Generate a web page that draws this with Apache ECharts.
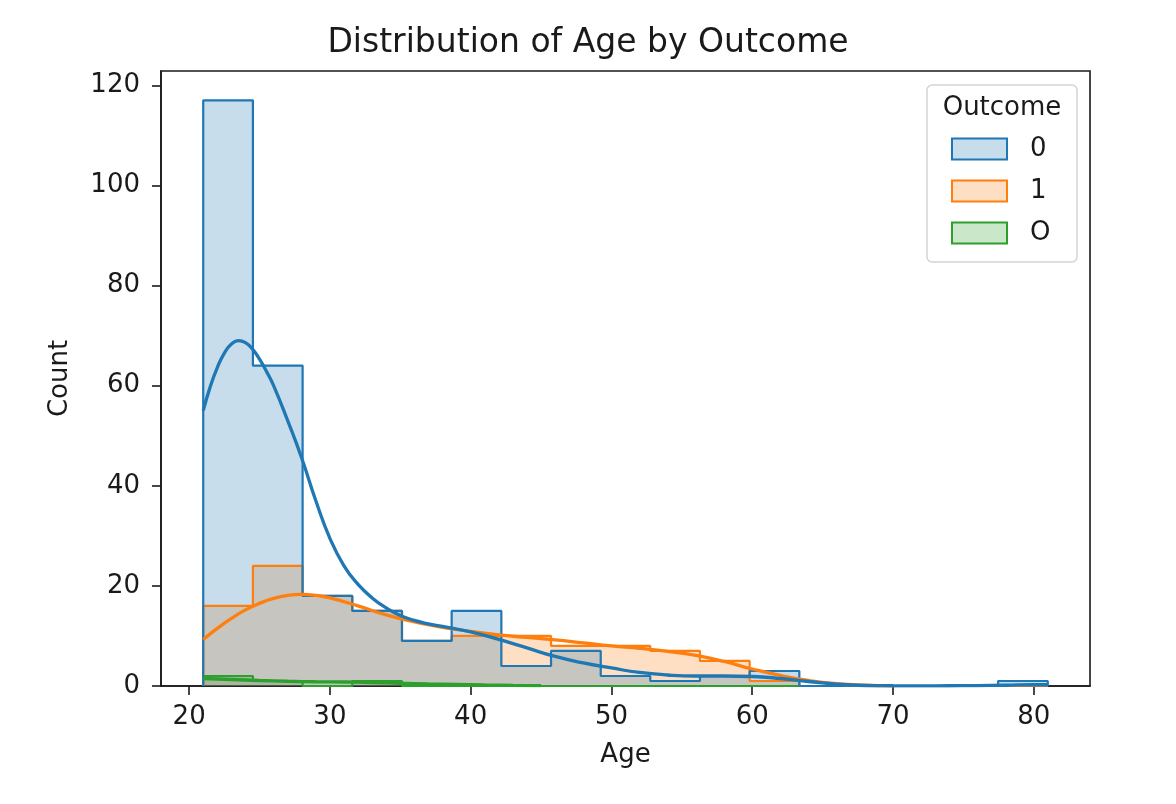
<!DOCTYPE html>
<html>
<head>
<meta charset="utf-8">
<title>Distribution of Age by Outcome</title>
<script src="https://cdn.jsdelivr.net/npm/echarts@6/dist/echarts.min.js"></script>
<style>
  html, body { margin: 0; padding: 0; background: #fff; }
  #chart { width: 1176px; height: 804px; }
</style>
</head>
<body>
<div id="chart"></div>
<script>
// histogram bins (17 bins from 21 to 81)
const binEdges = [21, 24.53, 28.06, 31.59, 35.12, 38.65, 42.18, 45.71, 49.24, 52.76, 56.29, 59.82, 63.35, 66.88, 70.41, 73.94, 77.47, 81];
const outcomes = ['0', '1', 'O'];
const counts0 = [117, 64, 18, 15, 9, 15, 4, 7, 2, 1, 2, 3, 0, 0, 0, 0, 1];
const counts1 = [16, 24, 18, 15, 9, 10, 10, 8, 8, 7, 5, 1, 0, 0, 0, 0, 0];
const countsO = [2, 1, 0, 1, 0, 0, 0, 0, 0, 0, 0, 0, 0, 0, 0, 0, 0];

// kde curves, [age, count]
const kde0 = [[21, 55], [21.5, 59.8], [22, 63.6], [22.5, 66.5], [23, 68.3], [23.5, 69], [24, 68.6], [24.5, 67.3],
  [25, 65.3], [25.5, 62.8], [26, 60], [27, 53], [28, 45.5], [29, 37],
  [30, 29.5], [31, 24], [32, 20.3], [33, 17.6], [34, 15.6], [35, 14.1], [36, 13.1], [37, 12.4], [38, 11.9],
  [40, 10.8], [42, 9.3], [44, 7.6], [46, 5.9], [48, 4.6], [50, 3.6], [52, 2.7], [54, 2.2], [56, 2.0], [58, 2.0],
  [60, 1.9], [62, 1.5], [64, 0.9], [66, 0.35], [68, 0.1], [70, 0.05], [72, 0.03], [74, 0.05], [76, 0.08],
  [78, 0.15], [80, 0.25], [81, 0.25]];
const kde1 = [[21, 9.3], [22, 11.5], [23, 13.5], [24, 15.2], [25, 16.5], [26, 17.5], [27, 18.1], [28, 18.3],
  [29, 18.1], [30, 17.6], [32, 16], [34, 14.2], [36, 12.8], [38, 11.7], [40, 10.9], [42, 10.2], [44, 9.7],
  [46, 9.2], [48, 8.6], [50, 8.0], [52, 7.5], [54, 6.9], [56, 6.1], [58, 4.9], [60, 3.4], [62, 2.1], [64, 1.1],
  [66, 0.45], [68, 0.15], [70, 0.05]];
const kdeO = [[21, 1.5], [23, 1.3], [25, 1.1], [27, 0.95], [29, 0.85], [31, 0.8], [33, 0.7], [35, 0.55],
  [37, 0.42], [39, 0.32], [41, 0.22], [43, 0.14], [45, 0.08]];

const xTicks = [20, 30, 40, 50, 60, 70, 80];
const yTicks = [0, 20, 40, 60, 80, 100, 120];

const colors = { '0': '#1f77b4', '1': '#ff7f0e', 'O': '#2ca02c' };
const fills = { '0': 'rgba(31,119,180,0.25)', '1': 'rgba(255,127,14,0.25)', 'O': 'rgba(44,160,44,0.25)' };
const FONT = 'DejaVu Sans';

// outline of a step histogram: down at both ends, flat over each bin
function stepPoints(counts) {
  let pts = [[binEdges[0], 0]];
  counts.forEach((c, i) => {
    pts.push([binEdges[i], c]);
    pts.push([binEdges[i + 1], c]);
  });
  pts.push([binEdges[binEdges.length - 1], 0]);
  return pts;
}

function histSeries(name, counts) {
  return {
    name: name,
    type: 'line',
    data: stepPoints(counts),
    showSymbol: false,
    silent: true,
    lineStyle: { color: colors[name], width: 2.2 },
    areaStyle: { color: fills[name], opacity: 1 },
    z: 2
  };
}

function kdeSeries(name, pts) {
  return {
    type: 'line',
    data: pts,
    smooth: 0.5,
    showSymbol: false,
    silent: true,
    lineStyle: { color: colors[name], width: 3.3 },
    z: 3
  };
}

// legend drawn by hand so the patches look like matplotlib ones
let legendGraphic = [{
  type: 'rect',
  shape: { x: 927, y: 85, width: 150, height: 177, r: 5 },
  style: { fill: 'rgba(255,255,255,0.8)', stroke: '#d4d4d4', lineWidth: 1.5 },
  z: 10
}, {
  type: 'text',
  x: 1002, y: 108,
  style: { text: 'Outcome', fontSize: 26, fontFamily: FONT, fill: '#1a1a1a', align: 'center', verticalAlign: 'middle' },
  z: 11
}];
outcomes.forEach((name, i) => {
  let cy = 149 + i * 42;
  legendGraphic.push({
    type: 'rect',
    shape: { x: 952, y: cy - 10.5, width: 55, height: 21 },
    style: { fill: fills[name], stroke: colors[name], lineWidth: 2 },
    z: 11
  });
  legendGraphic.push({
    type: 'text',
    x: 1030, y: cy,
    style: { text: name, fontSize: 26, fontFamily: FONT, fill: '#1a1a1a', align: 'left', verticalAlign: 'middle' },
    z: 11
  });
});

const chart = echarts.init(document.getElementById('chart'), null, { renderer: 'canvas' });
chart.setOption({
  animation: false,
  backgroundColor: '#ffffff',
  textStyle: { fontFamily: FONT },
  title: {
    text: 'Distribution of Age by Outcome',
    left: 'center',
    top: 27,
    padding: 0,
    textStyle: { fontFamily: FONT, fontSize: 33, fontWeight: 'normal', color: '#1a1a1a' }
  },
  grid: {
    left: 161, right: 86, top: 71, bottom: 118,
    show: true, borderColor: '#1a1a1a', borderWidth: 1.6, backgroundColor: 'transparent'
  },
  xAxis: {
    type: 'value',
    min: 18, max: 84,
    name: 'Age',
    nameLocation: 'middle',
    nameGap: 56,
    nameTextStyle: { fontFamily: FONT, fontSize: 26, color: '#1a1a1a' },
    axisLine: { onZero: false, lineStyle: { color: '#1a1a1a', width: 1.6 } },
    axisTick: { show: true, length: 9, lineStyle: { color: '#1a1a1a', width: 1.6 }, customValues: xTicks },
    axisLabel: { fontFamily: FONT, fontSize: 26, color: '#1a1a1a', margin: 18, customValues: xTicks },
    splitLine: { show: false }
  },
  yAxis: {
    type: 'value',
    min: 0, max: 122.85,
    name: 'Count',
    nameLocation: 'middle',
    nameGap: 88,
    nameTextStyle: { fontFamily: FONT, fontSize: 26, color: '#1a1a1a' },
    axisLine: { show: true, lineStyle: { color: '#1a1a1a', width: 1.6 } },
    axisTick: { show: true, length: 9, lineStyle: { color: '#1a1a1a', width: 1.6 }, customValues: yTicks },
    axisLabel: { fontFamily: FONT, fontSize: 26, color: '#1a1a1a', margin: 21, customValues: yTicks },
    splitLine: { show: false }
  },
  graphic: legendGraphic,
  series: [
    histSeries('O', countsO),
    histSeries('1', counts1),
    histSeries('0', counts0),
    kdeSeries('O', kdeO),
    kdeSeries('1', kde1),
    kdeSeries('0', kde0)
  ]
});
</script>
</body>
</html>
